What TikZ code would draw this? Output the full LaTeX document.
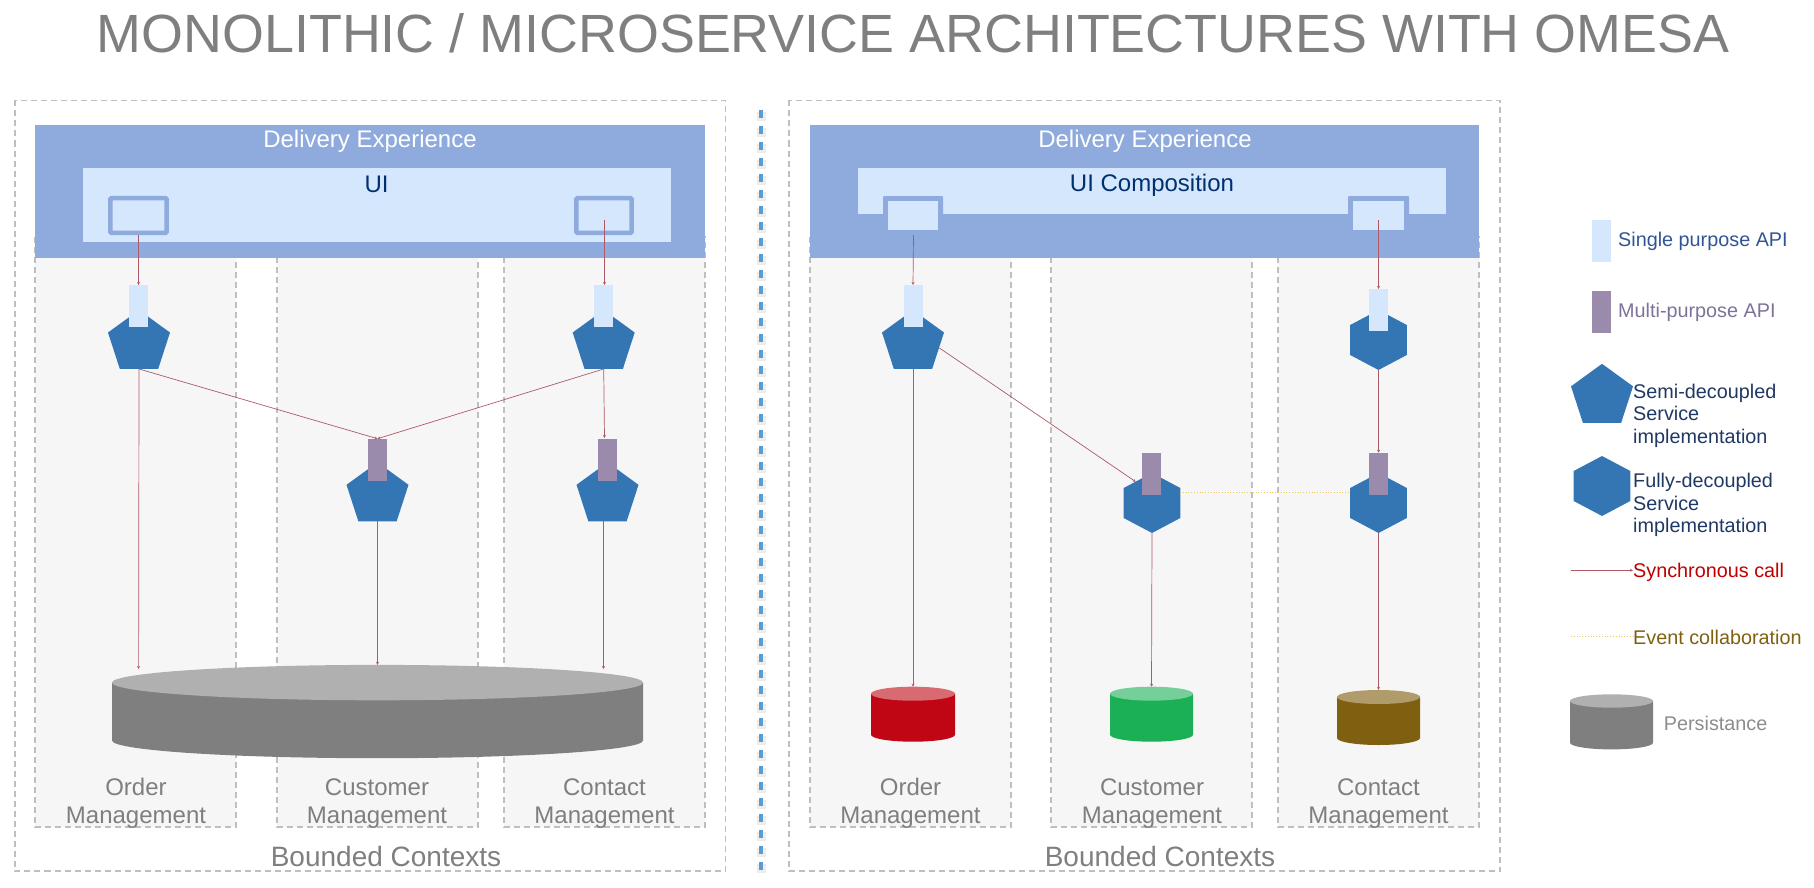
\documentclass[tikz,border=0pt]{standalone}
\usepackage{fontspec}
\setmainfont{Liberation Sans}
\usepackage{xcolor}
\usetikzlibrary{shapes.geometric,arrows.meta}
\definecolor{boxgray}{HTML}{BFBFBF}
\definecolor{ctxfill}{HTML}{F6F6F6}
\definecolor{delivery}{HTML}{8FAADC}
\definecolor{uifill}{HTML}{D4E7FC}
\definecolor{multiapi}{HTML}{9A8BAC}
\definecolor{svcblue}{HTML}{3476B3}
\definecolor{callred}{HTML}{AE5A66}
\definecolor{eventyellow}{HTML}{EFC75E}
\definecolor{divblue}{HTML}{5B9BD5}
\definecolor{txtgray}{HTML}{7F7F7F}
\definecolor{uitext}{HTML}{003070}
\definecolor{dbtop}{HTML}{B0B0B0}
\definecolor{dbred}{HTML}{C00614}
\definecolor{dbredtop}{HTML}{D86B72}
\definecolor{dbgreen}{HTML}{1BB055}
\definecolor{dbgreentop}{HTML}{74CF98}
\definecolor{dbbrown}{HTML}{7F5F10}
\definecolor{dbbrowntop}{HTML}{B09C6A}
\definecolor{keysinglecol}{HTML}{2F5597}
\definecolor{keymulticol}{HTML}{7D7298}
\definecolor{keydark}{HTML}{1F3864}
\definecolor{keyred}{HTML}{C00000}
\definecolor{keybrown}{HTML}{7F6010}
\definecolor{keypersist}{HTML}{8C8C8C}
\tikzset{
    outerbox/.style={draw=boxgray,line width=1.6pt,dash pattern=on 6pt off 4pt},
    ctxbox/.style={outerbox,fill=ctxfill},
    label24/.style={text=txtgray,font=\fontsize{24}{28}\selectfont,align=center,inner sep=0pt},
    label28/.style={text=txtgray,font=\fontsize{28}{32}\selectfont,inner sep=0pt},
    legendtxt/.style={font=\fontsize{19.8}{22.5}\selectfont,align=left,anchor=west,inner sep=0pt},
    semisvc/.style={regular polygon,regular polygon sides=5,minimum size=65.2pt,inner sep=0pt,outer sep=0pt,fill=svcblue},
    fullsvc/.style={regular polygon,regular polygon sides=6,shape border rotate=30,minimum size=60pt,inner sep=0pt,outer sep=0pt,fill=svcblue,xscale=1.09,transform shape},
    singleapi/.style={minimum width=19pt,minimum height=42pt,inner sep=0pt,outer sep=0pt,fill=uifill},
    multi/.style={singleapi,fill=multiapi},
    syncall/.style={draw=callred,line width=0.7pt,-{Stealth[length=3pt,width=3pt]}},
    eventcall/.style={draw=eventyellow,line width=0.8pt,dotted},
}
% name, x, half width, top y, bottom y, y radius, body colour, top colour
\newcommand{\dbcyl}[8]{
    \fill[#7] (#2-#3,#4) -- (#2-#3,#5) arc[start angle=180,end angle=360,x radius=#3pt,y radius=#6pt] -- (#2+#3,#4) -- cycle;
    \fill[#8] (#2,#4) ellipse[x radius=#3pt,y radius=#6pt];
    \coordinate (#1) at (#2,#4-#6);
}
\begin{document}
\begin{tikzpicture}[x=1pt,y=-1pt]
    \useasboundingbox (0,0) rectangle (1814,888);

    \node[text=txtgray,font=\fontsize{53.85}{60}\selectfont,inner sep=0pt,anchor=base] (title) at (913,52.7) {MONOLITHIC / MICROSERVICE ARCHITECTURES WITH OMESA};

    % left panel
    \draw[outerbox] (15,100.5) rectangle (725.5,871);
    \draw[ctxbox] (35,237) rectangle (236,827);
    \draw[ctxbox] (277,237) rectangle (478,827);
    \draw[ctxbox] (504,237) rectangle (705,827);
    \fill[delivery] (35,125) rectangle (705,257.5);
    \node[text=white,font=\fontsize{24}{28}\selectfont,inner sep=0pt] (leftdelivery) at (370,141.5) {Delivery Experience};
    \fill[uifill] (83,168) rectangle (671,242);
    \node[text=uitext,font=\fontsize{24}{28}\selectfont,inner sep=0pt] (leftui) at (376.6,184.3) {UI};
    \draw[delivery,line width=4.5pt,rounded corners=1pt] (110.3,198.2) rectangle (166.7,232.8);
    \draw[delivery,line width=4.5pt,rounded corners=1pt] (576.3,198.2) rectangle (631.7,232.8);
    \coordinate (leftwinorder) at (138.6,235);
    \coordinate (leftwincontact) at (604.5,220);

    \node[semisvc] (leftorder) at (139,342.6) {};
    \node[semisvc] (leftcustomer) at (377.5,494.9) {};
    \node[semisvc] (leftcontact) at (603.7,342.6) {};
    \node[semisvc] (leftcontactb) at (607.5,494.9) {};
    \node[singleapi] (leftorderapi) at (138.6,306) {};
    \node[singleapi] (leftcontactapi) at (603.7,306) {};
    \node[multi] (leftcustomerapi) at (377.5,459.7) {};
    \node[multi] (leftcontactbapi) at (607.5,459.7) {};

    \dbcyl{leftdb}{377.5}{265.5}{682.6}{740.5}{17.7}{txtgray}{dbtop}
    \coordinate (leftdborder) at (138.6,669);
    \coordinate (leftdbcontact) at (603.5,669);
    \coordinate (leftcontactbout) at (603.5,521);
    \coordinate (leftcontactin) at (604.5,285);
    \coordinate (leftcontactbin) at (604.5,438);

    \draw[syncall] (leftwinorder) -- (leftorderapi.north);
    \draw[syncall] (leftwincontact) -- (leftcontactin);
    \draw[syncall] (leftorder.south) -- (leftcustomerapi.north);
    \draw[syncall] (leftcontact.south) -- (leftcustomerapi.north);
    \draw[syncall] (leftcontact.south) -- (leftcontactbin);
    \draw[syncall] (leftorder.south) -- (leftdborder);
    \draw[syncall] (leftcustomer.south) -- (leftdb);
    \draw[syncall] (leftcontactbout) -- (leftdbcontact);

    \node[label24] (leftordertxt) at (136,803.5) {Order\\Management};
    \node[label24] (leftcustomertxt) at (377,803.5) {Customer\\Management};
    \node[label24] (leftcontacttxt) at (604.5,803.5) {Contact\\Management};
    \node[label28] (leftbounded) at (386,856) {Bounded Contexts};

    % divider
    \draw[black,line width=9pt,dash pattern=on 9pt off 7pt,opacity=.07] (761,112) -- (761,874);
    \draw[divblue,line width=4.2pt,dash pattern=on 8pt off 8pt] (761,110) -- (761,870);

    % right panel
    \draw[outerbox] (789,100.5) rectangle (1500,871);
    \draw[ctxbox] (810,237) rectangle (1011,827);
    \draw[ctxbox] (1051,237) rectangle (1252,827);
    \draw[ctxbox] (1278,237) rectangle (1479,827);
    \fill[delivery] (810,125) rectangle (1479,257.5);
    \node[text=white,font=\fontsize{24}{28}\selectfont,inner sep=0pt] (rightdelivery) at (1145,141.5) {Delivery Experience};
    \fill[uifill] (858,168) rectangle (1446,214);
    \node[text=uitext,font=\fontsize{24}{28}\selectfont,inner sep=0pt] (rightui) at (1152,185) {UI Composition};
    \fill[delivery,rounded corners=1pt] (883,196) rectangle (943,235);
    \fill[delivery,rounded corners=1pt] (1348,196) rectangle (1409,235);
    \fill[uifill] (888,201) rectangle (938,230);
    \fill[uifill] (1353,201) rectangle (1404,230);
    \coordinate (rightwinorder) at (913.5,235);
    \coordinate (rightwincontact) at (1378.5,220);

    \node[semisvc] (rightorder) at (913,342.6) {};
    \node[fullsvc] (rightcontact) at (1378.5,340) {};
    \node[fullsvc] (rightcustomer) at (1152,503) {};
    \node[fullsvc] (rightcontactb) at (1378.5,503) {};
    \node[singleapi] (rightorderapi) at (913,306) {};
    \node[singleapi] (rightcontactapi) at (1378.5,310) {};
    \node[multi] (rightcustomerapi) at (1151.5,473.7) {};
    \node[multi] (rightcontactbapi) at (1378.5,473.7) {};

    \dbcyl{rightdborder}{913}{42}{693.7}{734.7}{7}{dbred}{dbredtop}
    \dbcyl{rightdbcustomer}{1151.5}{41.5}{693.7}{734.7}{7}{dbgreen}{dbgreentop}
    \dbcyl{rightdbcontact}{1378.5}{41.5}{697}{738}{7}{dbbrown}{dbbrowntop}
    \coordinate (rightorderout) at (939.4,348);
    \coordinate (rightcustomerin) at (1135.7,481.7);
    \coordinate (righteventa) at (1180,492.3);
    \coordinate (righteventb) at (1350,492.3);

    \draw[syncall] (rightwinorder) -- (rightorderapi.north);
    \draw[syncall] (rightwincontact) -- (rightcontactapi.north);
    \draw[syncall] (rightorderout) -- (rightcustomerin);
    \draw[syncall] (rightorder.south) -- (rightdborder);
    \draw[syncall] (rightcontact.south) -- (rightcontactbapi.north);
    \draw[syncall] (rightcustomer.south) -- (rightdbcustomer);
    \draw[syncall] (rightcontactb.south) -- (rightdbcontact);
    \draw[eventcall] (righteventa) -- (righteventb);

    \node[label24] (rightordertxt) at (910.5,803.5) {Order\\Management};
    \node[label24] (rightcustomertxt) at (1152,803.5) {Customer\\Management};
    \node[label24] (rightcontacttxt) at (1378.5,803.5) {Contact\\Management};
    \node[label28] (rightbounded) at (1160,856) {Bounded Contexts};

    % legend
    \node[singleapi] (keysingle) at (1601.5,241) {};
    \node[legendtxt,text=keysinglecol] (keysingletxt) at (1618,241.5) {Single purpose API};
    \node[multi] (keymulti) at (1601.5,312) {};
    \node[legendtxt,text=keymulticol] (keymultitxt) at (1618,312.5) {Multi-purpose API};
    \node[semisvc] (keysemi) at (1602,396.4) {};
    \node[legendtxt,text=keydark] (keysemitxt) at (1633,415.5) {Semi-decoupled\\Service\\implementation};
    \node[fullsvc] (keyfull) at (1602,486) {};
    \node[legendtxt,text=keydark] (keyfulltxt) at (1633,505) {Fully-decoupled\\Service\\implementation};
    \coordinate (keysyncstart) at (1571,570.3);
    \node[legendtxt,text=keyred] (keysynctxt) at (1633,572) {Synchronous call};
    \draw[syncall] (keysyncstart) -- (keysyncstart -| keysynctxt.west);
    \coordinate (keyeventstart) at (1571,636.3);
    \node[legendtxt,text=keybrown] (keyeventtxt) at (1633,637.5) {Event collaboration};
    \draw[eventcall] (keyeventstart) -- (keyeventstart -| keyeventtxt.west);
    \dbcyl{keydb}{1611.5}{41.5}{701}{742.7}{6.7}{txtgray}{dbtop}
    \node[legendtxt,text=keypersist] (keydbtxt) at (1663.7,723) {Persistance};
\end{tikzpicture}
\end{document}
